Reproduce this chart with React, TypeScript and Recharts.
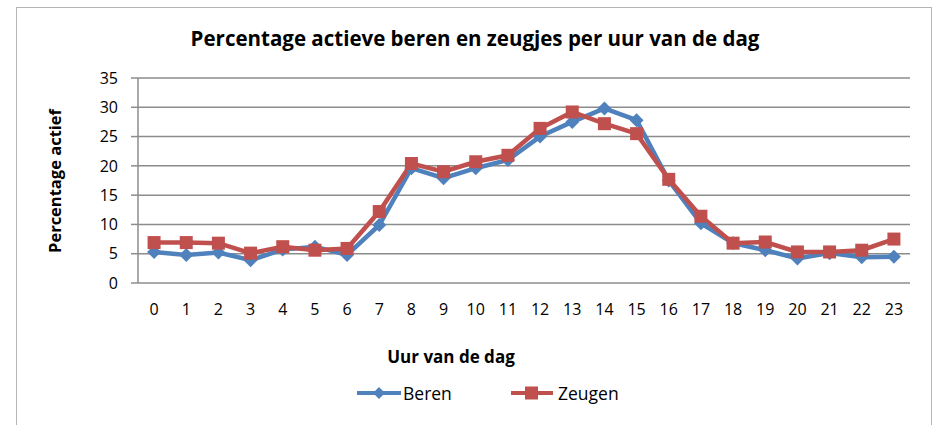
import React from 'react';
import {
  LineChart,
  Line,
  XAxis,
  YAxis,
  CartesianGrid,
  Legend,
  Label,
} from 'recharts';

const hours = [0, 1, 2, 3, 4, 5, 6, 7, 8, 9, 10, 11, 12, 13, 14, 15, 16, 17, 18, 19, 20, 21, 22, 23];
const beren = [5.3, 4.8, 5.2, 3.9, 5.7, 6.2, 4.8, 9.9, 19.6, 17.9, 19.6, 21.0, 25.0, 27.5, 29.8, 27.8, 17.5, 10.2, 6.8, 5.6, 4.2, 5.1, 4.4, 4.5];
const zeugen = [6.9, 6.9, 6.8, 5.1, 6.2, 5.6, 5.9, 12.2, 20.4, 19.0, 20.7, 21.8, 26.4, 29.2, 27.2, 25.5, 17.7, 11.4, 6.8, 7.0, 5.3, 5.3, 5.6, 7.5];
const yTicks = [0, 5, 10, 15, 20, 25, 30, 35];
// tick marks sit between the hours, like in Excel
const hourEdges = [-0.5, ...hours.map((h) => h + 0.5)];

const data = hours.map((h, i) => ({ hour: h, Beren: beren[i], Zeugen: zeugen[i] }));

const BLUE = '#4F81BD';
const RED = '#C0504D';
const GRID = '#8c8c8c';
const FONT = '"Open Sans", Lato, sans-serif';

const Diamond = (props: any) => {
  const { cx, cy, index } = props;
  if (cx == null || cy == null) return null;
  const r = 7;
  return (
    <path
      key={`d-${index}`}
      d={`M${cx},${cy - r} L${cx + r},${cy} L${cx},${cy + r} L${cx - r},${cy} Z`}
      fill={BLUE}
    />
  );
};

const Square = (props: any) => {
  const { cx, cy, index } = props;
  if (cx == null || cy == null) return null;
  const s = 13;
  return <rect key={`s-${index}`} x={cx - s / 2} y={cy - s / 2} width={s} height={s} fill={RED} />;
};

const LegendContent = () => (
  <div
    style={{
      display: 'flex',
      alignItems: 'center',
      fontFamily: FONT,
      fontSize: 17.5,
      color: '#000',
      paddingLeft: 357,
      height: 40,
    }}
  >
    <svg width={44} height={14}>
      <line x1={0} y1={7} x2={44} y2={7} stroke={BLUE} strokeWidth={4} />
      <path d="M22,1 L28,7 L22,13 L16,7 Z" fill={BLUE} />
    </svg>
    <span style={{ marginLeft: 2, width: 108 }}>Beren</span>
    <svg width={42} height={14}>
      <line x1={0} y1={7} x2={42} y2={7} stroke={RED} strokeWidth={4} />
      <rect x={14} y={0.5} width={13} height={13} fill={RED} />
    </svg>
    <span style={{ marginLeft: 5 }}>Zeugen</span>
  </div>
);

export default function App() {
  return (
    <div style={{ position: 'absolute', left: 0, top: 0, width: 935, height: 425, background: '#fff', overflow: 'hidden' }}>
      <div
        style={{
          position: 'absolute',
          left: 16,
          top: 7,
          width: 914,
          height: 440,
          border: '1px solid #b5b5b5',
        }}
      />
      <div
        style={{
          position: 'absolute',
          left: 0,
          top: 24,
          width: 950,
          textAlign: 'center',
          fontFamily: FONT,
          fontWeight: 700,
          fontSize: 20.5,
          color: '#000',
        }}
      >
        Percentage actieve beren en zeugjes per uur van de dag
      </div>
      <div style={{ position: 'absolute', left: 0, top: 0 }}>
        <LineChart width={935} height={425} data={data} margin={{ top: 78, right: 25, left: 0, bottom: 12 }}>
          <CartesianGrid horizontal vertical={false} stroke={GRID} strokeWidth={1.5} />
          <XAxis
            dataKey="hour"
            type="number"
            domain={[-0.5, 23.5]}
            ticks={hourEdges}
            tick={false}
            tickLine={{ stroke: GRID, strokeWidth: 1.5 }}
            tickSize={6}
            axisLine={{ stroke: GRID, strokeWidth: 1.5 }}
            height={0}
            allowDecimals
          />
          <XAxis
            xAxisId="labels"
            dataKey="hour"
            type="number"
            domain={[-0.5, 23.5]}
            ticks={hours}
            interval={0}
            tickLine={false}
            axisLine={false}
            tick={{ fill: '#000', fontSize: 16, fontFamily: FONT }}
            tickMargin={15}
            height={90}
          >
            <Label
              content={() => (
                <text x={451} y={363} textAnchor="middle" fontFamily={FONT} fontWeight={700} fontSize={17} fill="#000">
                  Uur van de dag
                </text>
              )}
            />
          </XAxis>
          <YAxis
            domain={[0, 35]}
            ticks={yTicks}
            interval={0}
            width={138}
            tickSize={7}
            tickMargin={13}
            tickLine={{ stroke: GRID, strokeWidth: 1.5 }}
            axisLine={{ stroke: GRID, strokeWidth: 1.5 }}
            tick={{ fill: '#000', fontSize: 16, fontFamily: FONT }}
          >
            <Label
              content={() => (
                <text
                  x={61}
                  y={181}
                  transform="rotate(-90 61 181)"
                  textAnchor="middle"
                  fontFamily={FONT}
                  fontWeight={700}
                  fontSize={16.5}
                  fill="#000"
                >
                  Percentage actief
                </text>
              )}
            />
          </YAxis>
          <Legend verticalAlign="bottom" height={40} content={<LegendContent />} />
          <Line
            type="linear"
            dataKey="Beren"
            stroke={BLUE}
            strokeWidth={4.5}
            dot={<Diamond />}
            activeDot={false}
            isAnimationActive={false}
          />
          <Line
            type="linear"
            dataKey="Zeugen"
            stroke={RED}
            strokeWidth={4.5}
            dot={<Square />}
            activeDot={false}
            isAnimationActive={false}
          />
        </LineChart>
      </div>
    </div>
  );
}
